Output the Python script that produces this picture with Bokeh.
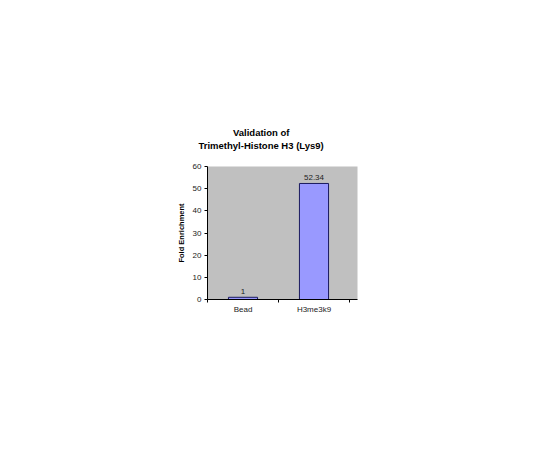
from bokeh.plotting import figure
from bokeh.models import Range1d, FixedTicker, ColumnDataSource, LabelSet, Title
from bokeh.core.properties import value
from bokeh.embed import file_html
from bokeh.resources import INLINE

categories = ["Bead", "H3me3k9"]
values = [1, 52.34]
value_labels = ["1", "52.34"]
y_ticks = [0, 10, 20, 30, 40, 50, 60]
title_lines = ["Validation of", "Trimethyl-Histone H3 (Lys9)"]
y_label = "Fold Enrichment"

positions = [i + 0.5 for i in range(len(categories))]

src = ColumnDataSource(dict(x=positions, top=values, lab=value_labels))

font = "Liberation Sans"

p = figure(width=524, height=434, output_backend="svg", toolbar_location=None,
           x_range=Range1d(0, 150 / 71), y_range=Range1d(0, 60),
           min_border_left=207, min_border_right=167, min_border_top=166, min_border_bottom=135)

p.background_fill_color = "#C0C0C0"
p.border_fill_color = "white"
p.outline_line_color = None
p.grid.visible = False

p.vbar(x="x", top="top", bottom=0, width=0.41, source=src,
       fill_color="#9999FF", line_color="#1a1a5e", line_width=1)

labels = LabelSet(x="x", y="top", text="lab", source=src, text_align="center",
                  text_baseline="bottom", y_offset=3, text_font=value(font),
                  text_font_size="8px", text_color="#222222")
p.add_layout(labels)

# x axis
xa = p.xaxis[0]
xa.ticker = FixedTicker(ticks=positions, minor_ticks=[0, 1, 2])
xa.major_label_overrides = {pos: c for pos, c in zip(positions, categories)}
xa.major_tick_out = 0
xa.major_tick_in = 0
xa.minor_tick_out = 3
xa.minor_tick_in = 0
xa.major_label_text_font = font
xa.major_label_text_font_size = "8px"
xa.major_label_text_color = "#222222"
xa.major_label_standoff = 2
xa.axis_line_color = "black"

ya = p.yaxis[0]
ya.ticker = FixedTicker(ticks=y_ticks)
ya.minor_tick_line_color = None
ya.major_tick_out = 3
ya.major_tick_in = 0
ya.major_label_text_font = font
ya.major_label_text_font_size = "8px"
ya.major_label_text_color = "#222222"
ya.major_label_standoff = 3
ya.axis_label = y_label
ya.axis_label_text_font = font
ya.axis_label_text_font_size = "7.5px"
ya.axis_label_text_font_style = "bold"
ya.axis_label_text_color = "black"
ya.axis_label_standoff = 4
ya.axis_line_color = "black"

# spacer between title and plot area
p.add_layout(Title(text=" ", text_font_size="6px", standoff=8), "above")

# two-line title; each line centred about 54px right of the plot area's left edge
approx_widths = [57, 126]
for i, line in reversed(list(enumerate(title_lines))):
    t = Title(text=line, align="left", offset=54 - approx_widths[i] / 2,
              text_font=font, text_font_size="9.5px", text_font_style="bold",
              text_color="black", text_line_height=0.8, standoff=0)
    p.add_layout(t, "above")

open("out.html", "w").write(file_html(p, INLINE))
